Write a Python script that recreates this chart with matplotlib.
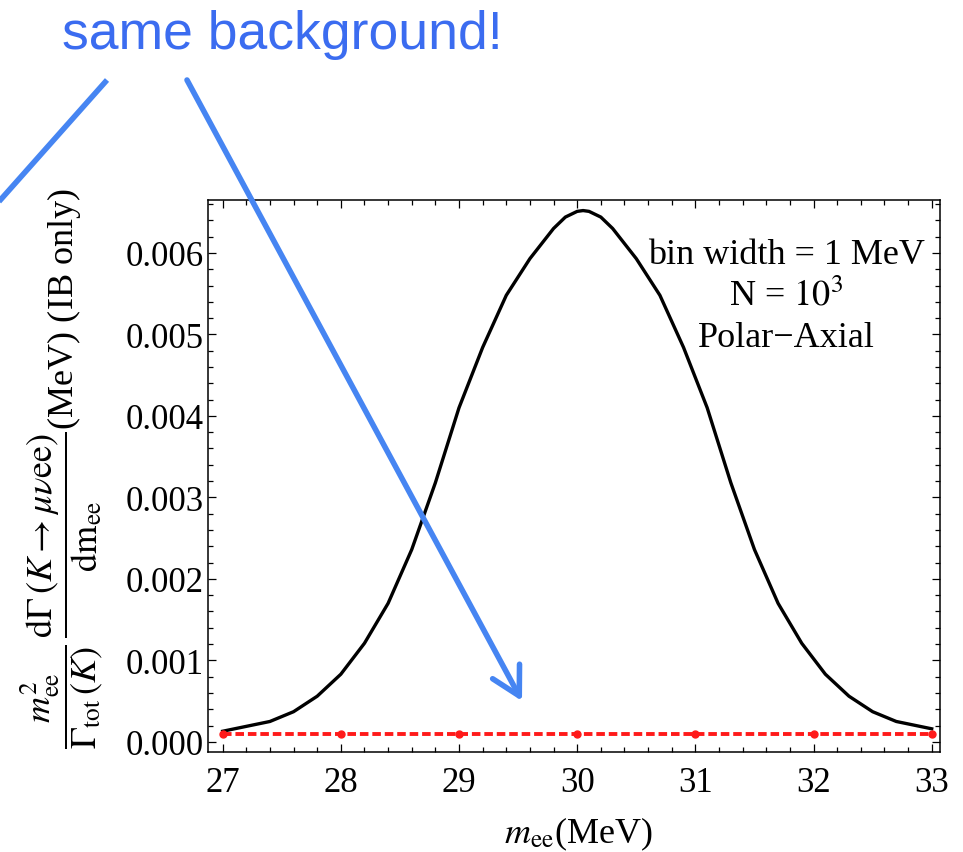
import matplotlib
matplotlib.use("Agg")
import matplotlib.pyplot as plt
from matplotlib.ticker import MultipleLocator, FormatStrFormatter

plt.rcParams['font.family'] = ['Liberation Serif', 'DejaVu Serif']
plt.rcParams['mathtext.fontset'] = 'stix'

mee = [27.0, 27.2, 27.4, 27.6, 27.8, 28.0, 28.2, 28.4, 28.6, 28.8, 29.0, 29.2, 29.4,
       29.6, 29.8, 29.9, 30.0, 30.05, 30.1, 30.2, 30.3, 30.5, 30.7, 30.9, 31.1, 31.3,
       31.5, 31.7, 31.9, 32.1, 32.3, 32.5, 32.7, 32.9, 33.0]
rate = [0.00013, 0.00019, 0.00025, 0.00037, 0.00056, 0.00083, 0.00121, 0.00170,
        0.00236, 0.00318, 0.00410, 0.00484, 0.00548, 0.00593, 0.00630, 0.00644,
        0.00651, 0.00652, 0.00651, 0.00644, 0.00630, 0.00593, 0.00548, 0.00484,
        0.00410, 0.00318, 0.00236, 0.00170, 0.00121, 0.00083, 0.00056, 0.00037,
        0.00025, 0.00019, 0.00016]

# background per 1 MeV bin
bins = [27, 28, 29, 30, 31, 32, 33]
bkg = [0.000094, 0.000094, 0.000094, 0.000094, 0.000094, 0.000094, 0.000094]
bkg_err = [0.00002, 0.00002, 0.00002, 0.00002, 0.00002, 0.00002, 0.00002]

info_lines = ['bin width = 1 MeV', r'N = $10^3$', 'Polar\u2212Axial']

fig = plt.figure(figsize=(9.63, 8.53), dpi=100)
ax = fig.add_axes([0.2160, 0.1172, 0.7601, 0.6472])

ax.plot(mee, rate, color='black', lw=2.4, solid_joinstyle='round')
ax.plot(bins, bkg, color='#ff1a1a', lw=2.8, dashes=(2.2, 1.0))
ax.errorbar(bins, bkg, yerr=bkg_err, fmt='o', color='#ff1a1a', ms=5,
            elinewidth=2.4, capsize=0)

ax.set_xlim(26.876, 33.07)
ax.set_ylim(-0.000125, 0.00665)
ax.xaxis.set_major_locator(MultipleLocator(1))
ax.xaxis.set_minor_locator(MultipleLocator(0.2))
ax.yaxis.set_major_locator(MultipleLocator(0.001))
ax.yaxis.set_minor_locator(MultipleLocator(0.0002))
ax.yaxis.set_major_formatter(FormatStrFormatter('%.3f'))
ax.xaxis.set_major_formatter(FormatStrFormatter('%d'))
ax.tick_params(which='both', direction='in', top=True, right=True, width=0.9,
               labelsize=25)
ax.tick_params(axis='x', pad=10)
ax.tick_params(axis='y', pad=3)
ax.tick_params(which='major', length=5.5)
ax.tick_params(which='minor', length=3.8)
for s in ax.spines.values():
    s.set_linewidth(1.1)

ax.set_xlabel(r'$m_{\mathrm{ee}}$(MeV)', fontsize=26, va='center')
ax.xaxis.set_label_coords(0.5055, -0.148)
ax.set_ylabel(r'$\dfrac{m_{\mathrm{ee}}^{2}}{\Gamma_{\mathrm{tot}}\,(K)}\,'
              r'\dfrac{\mathrm{d}\Gamma\,(K\rightarrow\mu\nu\mathrm{ee})}{\mathrm{dm}_{\mathrm{ee}}}$'
              '(MeV) (IB only)', fontsize=26, va='center')
ax.yaxis.set_label_coords(-0.2, 0.515)

for txt, yv in zip(info_lines, [0.005877, 0.005363, 0.004861]):
    ax.text(31.77, yv, txt, fontsize=26, ha='center', va='baseline')

# callout drawn on top, in pixel coordinates
ov = fig.add_axes([0, 0, 1, 1], zorder=10)
ov.set_xlim(0, 963)
ov.set_ylim(853, 0)
ov.axis('off')
ov.text(282, 49, 'same background!', fontsize=38.5, color='#3b6cf0',
        family='Liberation Sans', ha='center', va='baseline')
ov.plot([107, -5], [81, 207], color='#4685f2', lw=4, solid_capstyle='butt')
ov.annotate('', xy=(522, 702), xytext=(187, 81),
            arrowprops=dict(arrowstyle='->,head_length=1.0,head_width=0.55',
                            color='#4685f2', lw=4, mutation_scale=20,
                            shrinkA=0, shrinkB=0))

fig.savefig('out.png', dpi=100)
